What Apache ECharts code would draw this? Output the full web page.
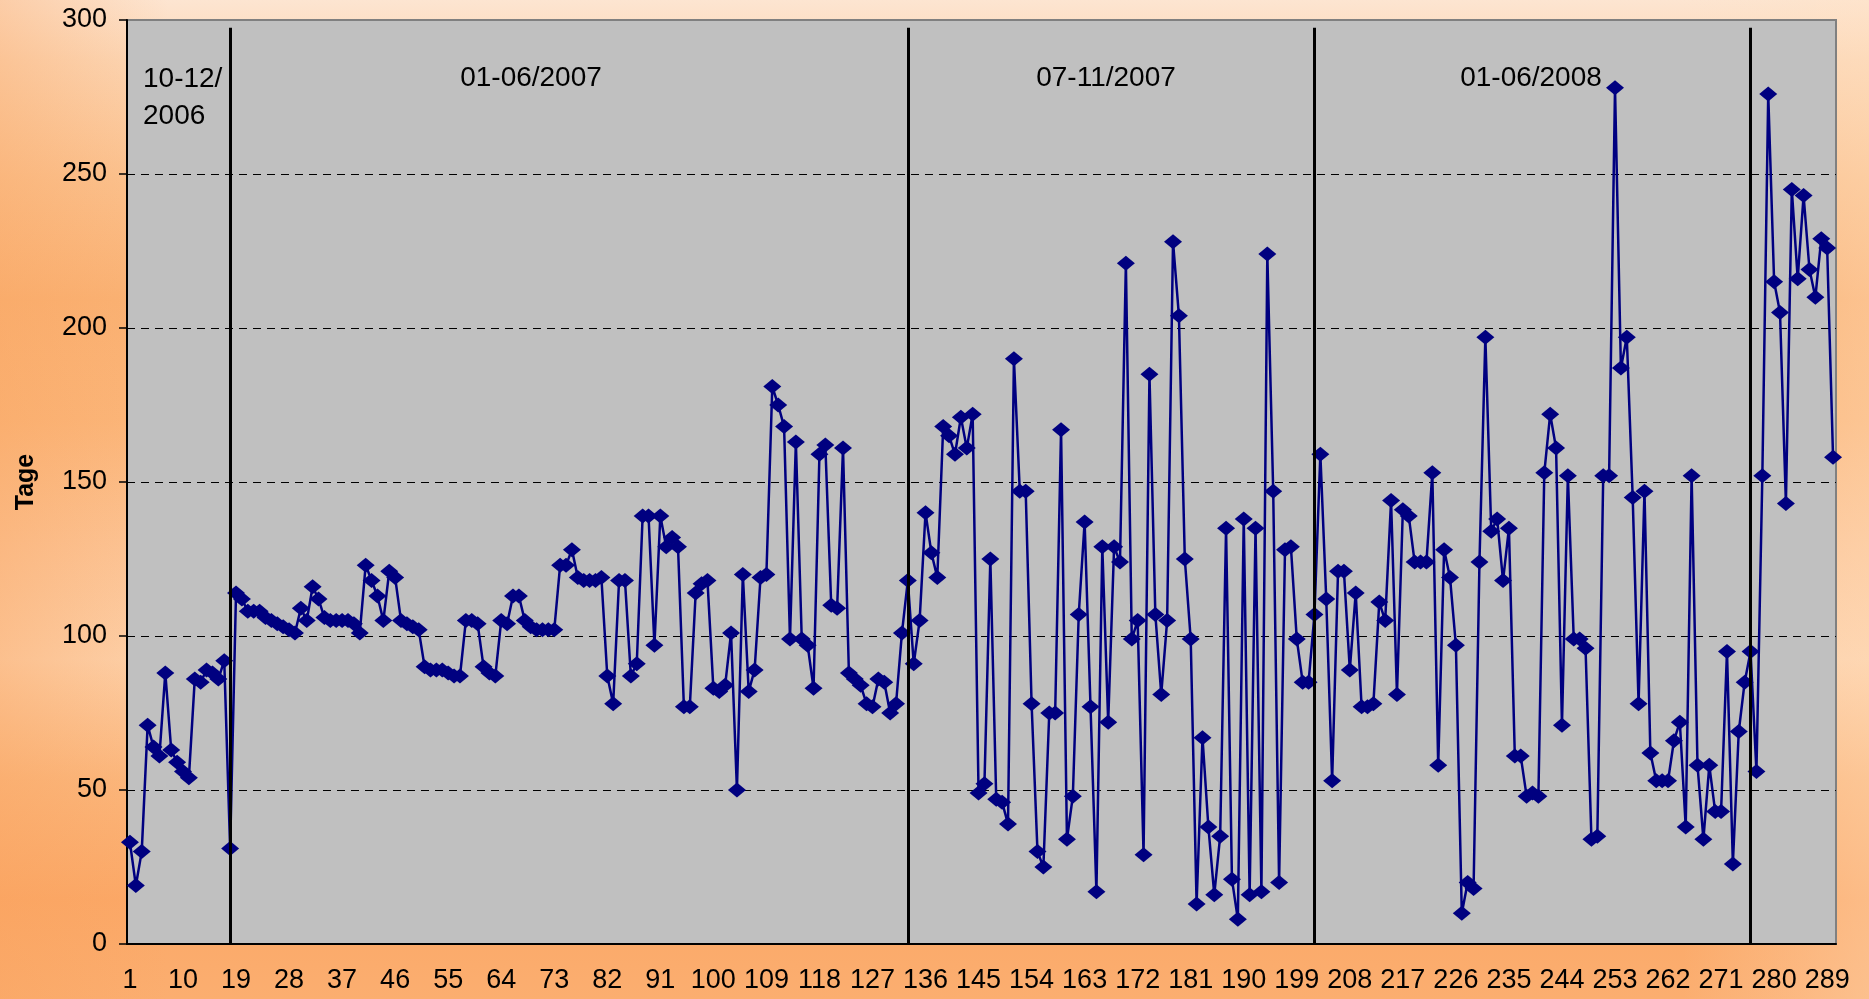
<!DOCTYPE html>
<html>
<head>
<meta charset="utf-8">
<title>Tage</title>
<script src="https://cdn.jsdelivr.net/npm/echarts@6/dist/echarts.min.js"></script>
<style>
  html, body {
    margin: 0;
    padding: 0;
    width: 1869px;
    height: 999px;
    overflow: hidden;
  }
  body {
    background:
      linear-gradient(to right, rgba(249,160,90,0.35) 0%, rgba(249,160,90,0) 9%, rgba(255,255,255,0) 90%, rgba(255,225,195,0.35) 100%),
      linear-gradient(to bottom, #fde5d1 0%, #fcd7b6 6%, #fbc28f 18%, #fab274 30%, #fbb67a 42%, #fcc597 55%, #fdd1aa 66%, #fbb77d 78%, #fba867 90%, #fbae70 100%);
  }
  #chart {
    width: 1869px;
    height: 999px;
  }
</style>
</head>
<body>
<div id="chart"></div>
<script>
// Tage je Vorgang, Nr. 1..290
const tage = [
  33, 19, 30, 71, 64, 61, 88, 63, 59, 56,
  54, 86, 85, 89, 88, 86, 92, 31, 114, 112,
  108, 108, 108, 106, 105, 104, 103, 102, 101, 109,
  105, 116, 112, 106, 105, 105, 105, 105, 104, 101,
  123, 118, 113, 105, 121, 119, 105, 104, 103, 102,
  90, 89, 89, 89, 88, 87, 87, 105, 105, 104,
  90, 88, 87, 105, 104, 113, 113, 105, 103, 102,
  102, 102, 102, 123, 123, 128, 119, 118, 118, 118,
  119, 87, 78, 118, 118, 87, 91, 139, 139, 97,
  139, 129, 132, 129, 77, 77, 114, 117, 118, 83,
  82, 84, 101, 50, 120, 82, 89, 119, 120, 181,
  175, 168, 99, 163, 99, 97, 83, 159, 162, 110,
  109, 161, 88, 86, 84, 78, 77, 86, 85, 75,
  78, 101, 118, 91, 105, 140, 127, 119, 168, 165,
  159, 171, 161, 172, 49, 52, 125, 47, 46, 39,
  190, 147, 147, 78, 30, 25, 75, 75, 167, 34,
  48, 107, 137, 77, 17, 129, 72, 129, 124, 221,
  99, 105, 29, 185, 107, 81, 105, 228, 204, 125,
  99, 13, 67, 38, 16, 35, 135, 21, 8, 138,
  16, 135, 17, 224, 147, 20, 128, 129, 99, 85,
  85, 107, 159, 112, 53, 121, 121, 89, 114, 77,
  77, 78, 111, 105, 144, 81, 141, 139, 124, 124,
  124, 153, 58, 128, 119, 97, 10, 20, 18, 124,
  197, 134, 138, 118, 135, 61, 61, 48, 49, 48,
  153, 172, 161, 71, 152, 99, 99, 96, 34, 35,
  152, 152, 278, 187, 197, 145, 78, 147, 62, 53,
  53, 53, 66, 72, 38, 152, 58, 34, 58, 43,
  43, 95, 26, 69, 85, 95, 56, 152, 276, 215,
  205, 143, 245, 216, 243, 219, 210, 229, 226, 158
];

// x categories 1..290
const nummern = [];
for (let i = 1; i <= tage.length; i++) nummern.push(String(i));

// separator lines (category number) and period labels
const trenner = [18, 133, 202, 276];
const trennerHoehe = 297.5;
const perioden = ['10-12/\n2006', '01-06/2007', '07-11/2007', '01-06/2008'];

const FONT = '"Liberation Sans", Arial, sans-serif';

const chart = echarts.init(document.getElementById('chart'));

const option = {
  backgroundColor: 'transparent',
  animation: false,
  grid: {
    left: 127,
    right: 33,
    top: 20,
    bottom: 55,
    show: true,
    backgroundColor: '#C0C0C0',
    borderColor: '#808080',
    borderWidth: 2
  },
  xAxis: {
    type: 'category',
    data: nummern,
    boundaryGap: true,
    axisLine: { lineStyle: { color: '#000', width: 2 } },
    axisTick: { interval: 0, length: 8, lineStyle: { color: '#000', width: 1.5 } },
    axisLabel: { interval: 8, margin: 23, fontSize: 27, color: '#000', fontFamily: FONT }
  },
  yAxis: {
    type: 'value',
    min: 0,
    max: 300,
    interval: 50,
    name: 'Tage',
    nameLocation: 'middle',
    nameRotate: 90,
    nameGap: 88,
    nameTextStyle: { fontSize: 25, fontWeight: 'bold', color: '#000', fontFamily: FONT },
    axisLine: { show: true, lineStyle: { color: '#000', width: 2 } },
    axisTick: { show: true, length: 8, lineStyle: { color: '#000', width: 1.5 } },
    axisLabel: { margin: 20, fontSize: 27, color: '#000', fontFamily: FONT },
    splitLine: {
      show: true,
      showMinLine: false,
      showMaxLine: false,
      lineStyle: { color: '#000', width: 1, type: [8, 6] }
    }
  },
  graphic: [
    { type: 'text', left: 143, top: 61, style: { text: perioden[0], fontSize: 28, lineHeight: 37, fill: '#000', fontFamily: FONT } },
    { type: 'text', x: 531, y: 78, style: { text: perioden[1], fontSize: 28, fill: '#000', fontFamily: FONT, align: 'center', verticalAlign: 'middle' } },
    { type: 'text', x: 1106, y: 78, style: { text: perioden[2], fontSize: 28, fill: '#000', fontFamily: FONT, align: 'center', verticalAlign: 'middle' } },
    { type: 'text', x: 1531, y: 78, style: { text: perioden[3], fontSize: 28, fill: '#000', fontFamily: FONT, align: 'center', verticalAlign: 'middle' } }
  ],
  series: [
    {
      name: 'Trenner',
      type: 'line',
      data: [],
      z: 1,
      markLine: {
        silent: true,
        symbol: 'none',
        label: { show: false },
        lineStyle: { color: '#000', width: 3, type: 'solid' },
        data: trenner.map(n => [
          { coord: [String(n), 0] },
          { coord: [String(n), trennerHoehe] }
        ])
      }
    },
    {
      name: 'Tage',
      type: 'line',
      data: tage,
      z: 3,
      symbol: 'diamond',
      symbolSize: [18, 15],
      showAllSymbol: true,
      itemStyle: { color: '#000080' },
      lineStyle: { color: '#000080', width: 2.5 }
    }
  ]
};

chart.setOption(option);
</script>
</body>
</html>
